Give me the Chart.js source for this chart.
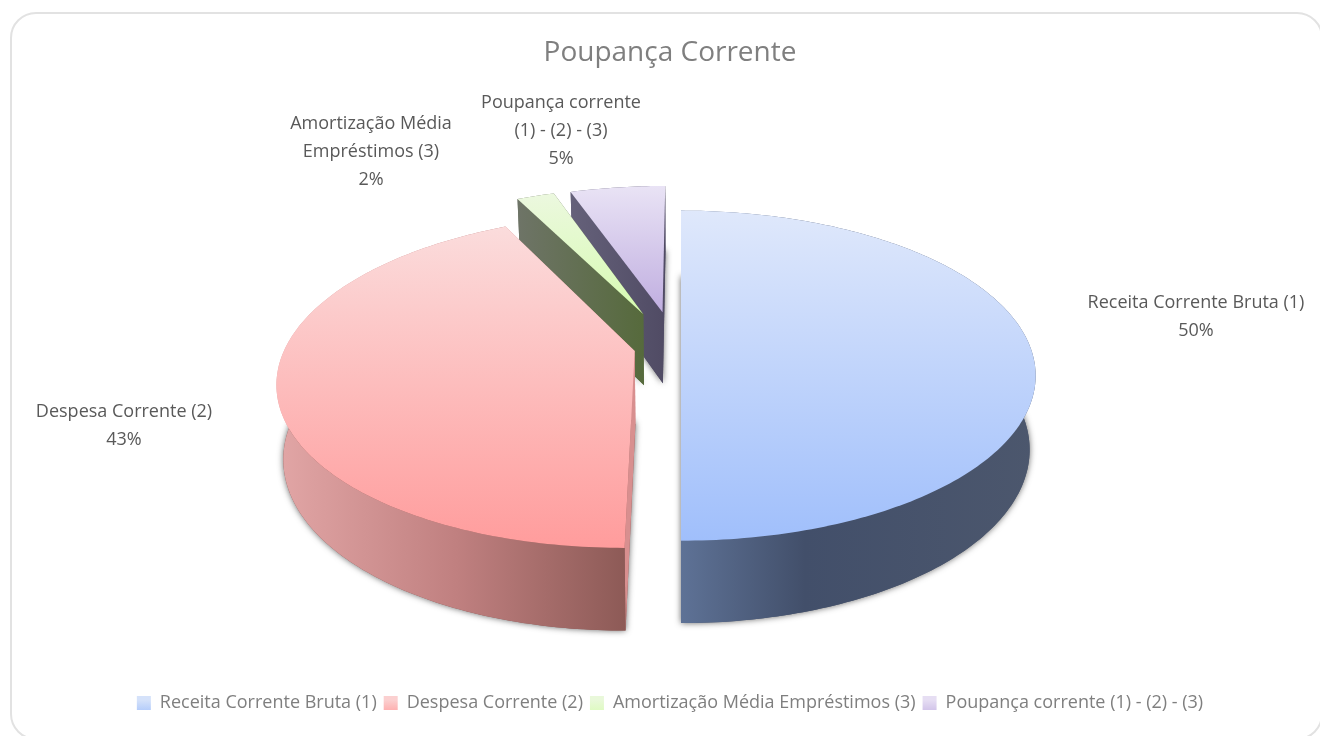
<!DOCTYPE html>
<html lang="pt">
<head>
<meta charset="utf-8">
<script src="https://cdn.jsdelivr.net/npm/chart.js@4"></script>
<style>
html,body{margin:0;padding:0;width:1320px;height:736px;overflow:hidden;background:#fff}
#frame{position:absolute;left:10px;top:12px;width:1309px;height:724px;border:2px solid #e2e2e2;border-radius:26px;box-sizing:content-box}
#c{position:absolute;left:10px;top:12px}
</style>
</head>
<body>
<div id="frame"></div>
<canvas id="c" width="1320" height="724"></canvas>
<script>
const titleText = "Poupança Corrente";
const categories = ["Receita Corrente Bruta (1)", "Despesa Corrente (2)", "Amortização Média Empréstimos (3)", "Poupança corrente (1) - (2) - (3)"];
const values = [50, 42.6, 2.1, 5.3];
const labelLines = [["Receita Corrente Bruta (1)"], ["Despesa Corrente (2)"], ["Amortização Média", "Empréstimos (3)"], ["Poupança corrente", "(1) - (2) - (3)"]];

/* styling and layout, kept apart from the data */
const FONT = '"Open Sans", sans-serif';
const topGrad = [["#dfe8fb","#a0bffb"],["#fbdcdc","#ff9c9c"],["#ecf8df","#d6fbb0"],["#e9e3f5","#c0aee0"]];
const wallStops = [
  [[0,"#5e7296"],[0.35,"#424f6a"],[1,"#4c576d"]],
  [[0,"#e2a6a6"],[0.5,"#c08080"],[1,"#8a5854"]],
  [[0,"#6e7467"],[1,"#566a3c"]],
  [[0,"#65617a"],[1,"#504b64"]]
];
const faceFill = ["#5e7296","#d88f8f",null,null];
const legendGrad = [["#d5e2fa","#a3c1fb"],["#fbd0d0","#ff9f9f"],["#e9f8da","#d9fbb5"],["#e6def3","#c6b6e4"]];
/* explosion of each slice, in pie radii, on the pie's own plane */
const explode = [{u:0,v:0},{u:-0.132,v:0.03},{u:-0.112,v:-0.208},{u:-0.055,v:-0.221}];
const SHIFT = {x:11, y:-37};       /* pie centre relative to the chart area centre */
const PERSP = 0.178, TOP_B = 0.458, LOW_A = 0.983, LOW_B = 0.481, DROP = 72.6;
const labelAt = [{x:1186,y:291},{x:114,y:400},{x:361,y:112},{x:551,y:91}]; /* canvas px, centre x, first line y */
const drawOrder = [3,2,0,1];

const pie3d = {
  id:"pie3d",
  beforeDatasetDraw(chart){
    const ctx = chart.ctx, arcs = chart.getDatasetMeta(0).data;
    const proj = (arc,u,v,low)=>{
      const cx = arc.x+SHIFT.x, cy = arc.y+SHIFT.y, R = arc.outerRadius, w = 1-PERSP*v;
      return low ? [cx+LOW_A*R*u/w, cy+DROP+LOW_B*R*v/w] : [cx+R*u/w, cy+TOP_B*R*v/w];
    };
    const rim = (arc,i,low)=>{
      const pts=[], e=explode[i], n=Math.max(4,Math.ceil((arc.endAngle-arc.startAngle)*60));
      for(let k=0;k<=n;k++){
        const a=arc.startAngle+(arc.endAngle-arc.startAngle)*k/n;
        pts.push(proj(arc,e.u+Math.cos(a),e.v+Math.sin(a),low));
      }
      return pts;
    };
    const fillPoly=(pts,style)=>{
      ctx.beginPath();pts.forEach((p,k)=>k?ctx.lineTo(p[0],p[1]):ctx.moveTo(p[0],p[1]));
      ctx.closePath();ctx.fillStyle=style;ctx.fill();
    };
    drawOrder.forEach(i=>{
      const arc=arcs[i], e=explode[i];
      const top=rim(arc,i,false), low=rim(arc,i,true);
      const apexT=proj(arc,e.u,e.v,false), apexL=proj(arc,e.u,e.v,true);
      const xs=top.concat(low,[apexT,apexL]).map(p=>p[0]);
      const x0=Math.min(...xs), x1=Math.max(...xs);
      const ys=top.concat([apexT]).map(p=>p[1]);
      const wg=ctx.createLinearGradient(x0,0,x1,0);
      wallStops[i].forEach(s=>wg.addColorStop(s[0],s[1]));
      /* soft shadow from the lower face */
      ctx.save();
      ctx.shadowColor="rgba(0,0,0,0.6)";ctx.shadowBlur=6;
      fillPoly([apexL].concat(low),wallStops[i][wallStops[i].length-1][1]);
      ctx.restore();
      /* cut faces */
      const faceA=[apexT,top[0],low[0],apexL], faceB=[apexT,top[top.length-1],low[low.length-1],apexL];
      fillPoly(faceA,faceFill[i]||wg);
      fillPoly(faceB,faceFill[i]||wg);
      /* outer wall */
      fillPoly(top.concat(low.slice().reverse()),wg);
      /* top surface, vertical gradient */
      const tg=ctx.createLinearGradient(0,Math.min(...ys),0,Math.max(...ys));
      tg.addColorStop(0,topGrad[i][0]);tg.addColorStop(1,topGrad[i][1]);
      fillPoly([apexT].concat(top),tg);
    });
    return false;
  },
  afterDatasetsDraw(chart){
    const ctx=chart.ctx;
    ctx.save();
    ctx.fillStyle="#595959";ctx.textAlign="center";ctx.textBaseline="middle";
    ctx.font='18px '+FONT;
    const total=values.reduce((a,b)=>a+b,0);
    labelLines.forEach((lines,i)=>{
      const pos=labelAt[i];
      lines.concat([Math.round(values[i]/total*100)+"%"]).forEach((t,k)=>ctx.fillText(t,pos.x,pos.y+k*28));
    });
    ctx.restore();
  }
};

new Chart(document.getElementById("c"),{
  type:"pie",
  data:{labels:categories,datasets:[{data:values,radius:349,borderWidth:0,backgroundColor:topGrad.map(g=>g[1])}]},
  options:{
    responsive:false,animation:false,
    layout:{padding:{bottom:14}},
    plugins:{
      title:{display:true,text:titleText,color:"#7f7f7f",font:{family:FONT,size:28,weight:"normal"},padding:{top:24,bottom:10}},
      legend:{position:"bottom",labels:{
        color:"#7f7f7f",font:{family:FONT,size:18},boxWidth:14,boxHeight:14,padding:7,
        generateLabels(chart){
          return categories.map((t,i)=>{
            const g=chart.ctx.createLinearGradient(0,688,0,704);
            g.addColorStop(0,legendGrad[i][0]);g.addColorStop(1,legendGrad[i][1]);
            return {text:t,fillStyle:g,strokeStyle:g,lineWidth:0,index:i,fontColor:"#7f7f7f"};
          });
        }
      }},
      tooltip:{enabled:false}
    }
  },
  plugins:[pie3d]
});
</script>
</body>
</html>
